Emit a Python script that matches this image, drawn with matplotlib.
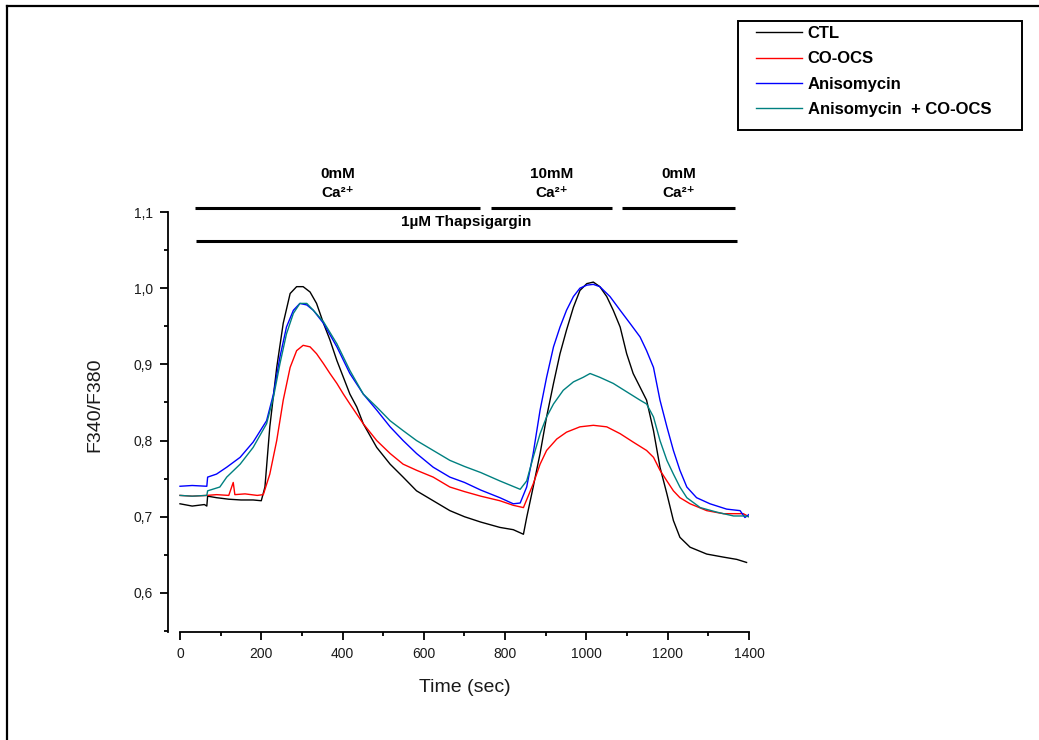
import matplotlib
matplotlib.use("Agg")
import matplotlib.pyplot as plt
from matplotlib.lines import Line2D
from matplotlib.patches import Rectangle
from matplotlib.ticker import MultipleLocator, FuncFormatter

plt.rcParams["font.family"] = ["Liberation Sans", "DejaVu Sans"]

# values
ctl_t = [0, 30, 60, 66, 68, 90, 120, 150, 180, 200, 209, 221, 238, 254, 271, 287, 303, 320,
         336, 353, 369, 386, 402, 418, 435, 451, 484, 517, 549, 582, 623, 664, 700, 740, 787,
         820, 845, 853, 869, 886, 902, 919, 935, 951, 968, 984, 1001, 1017, 1033, 1050, 1066,
         1083, 1099, 1115, 1132, 1148, 1165, 1181, 1198, 1214, 1230, 1255, 1296, 1337, 1370, 1394]
ctl_v = [0.717, 0.714, 0.716, 0.714, 0.727, 0.725, 0.723, 0.722, 0.722, 0.721, 0.739, 0.818,
         0.896, 0.954, 0.993, 1.002, 1.002, 0.995, 0.980, 0.954, 0.932, 0.905, 0.883, 0.861,
         0.844, 0.822, 0.791, 0.769, 0.752, 0.734, 0.721, 0.708, 0.700, 0.693, 0.686, 0.683,
         0.677, 0.699, 0.739, 0.783, 0.831, 0.875, 0.914, 0.945, 0.975, 0.997, 1.006, 1.008,
         1.002, 0.989, 0.971, 0.949, 0.914, 0.888, 0.870, 0.853, 0.813, 0.765, 0.730, 0.695,
         0.673, 0.660, 0.651, 0.647, 0.644, 0.640]

coocs_t = [0, 30, 66, 90, 120, 131, 135, 160, 190, 205, 221, 238, 254, 271, 287, 303, 320, 336,
           353, 369, 386, 402, 418, 451, 484, 517, 549, 582, 623, 664, 700, 740, 787, 820, 845,
           869, 886, 902, 927, 951, 984, 1017, 1050, 1083, 1115, 1148, 1165, 1181, 1198, 1214,
           1230, 1255, 1296, 1337, 1386, 1400]
coocs_v = [0.728, 0.727, 0.728, 0.729, 0.728, 0.745, 0.729, 0.730, 0.728, 0.729, 0.756, 0.800,
           0.853, 0.896, 0.918, 0.925, 0.923, 0.914, 0.901, 0.888, 0.875, 0.861, 0.848, 0.822,
           0.800, 0.783, 0.769, 0.761, 0.752, 0.739, 0.733, 0.727, 0.721, 0.715, 0.712, 0.743,
           0.769, 0.787, 0.802, 0.811, 0.818, 0.820, 0.818, 0.809, 0.798, 0.787, 0.778, 0.761,
           0.747, 0.734, 0.725, 0.717, 0.708, 0.704, 0.704, 0.700]

aniso_t = [0, 30, 66, 68, 90, 115, 148, 180, 213, 230, 246, 262, 279, 295, 312, 328, 353, 386,
           418, 451, 484, 517, 549, 582, 623, 664, 700, 740, 787, 820, 837, 853, 869, 886, 902,
           919, 935, 951, 968, 984, 1001, 1017, 1033, 1058, 1083, 1107, 1132, 1148, 1165, 1181,
           1198, 1214, 1230, 1247, 1271, 1304, 1345, 1378, 1390, 1400]
aniso_v = [0.740, 0.741, 0.740, 0.752, 0.756, 0.765, 0.778, 0.798, 0.826, 0.861, 0.910, 0.949,
           0.971, 0.980, 0.978, 0.971, 0.954, 0.923, 0.888, 0.861, 0.840, 0.818, 0.800, 0.783,
           0.765, 0.752, 0.745, 0.735, 0.725, 0.717, 0.718, 0.739, 0.783, 0.840, 0.883, 0.923,
           0.949, 0.971, 0.989, 1.000, 1.004, 1.005, 1.002, 0.989, 0.971, 0.954, 0.936, 0.918,
           0.896, 0.853, 0.818, 0.787, 0.761, 0.739, 0.725, 0.717, 0.710, 0.708, 0.699, 0.703]

combo_t = [0, 30, 66, 68, 98, 115, 148, 180, 213, 230, 246, 262, 279, 295, 312, 328, 353, 386,
           418, 451, 484, 517, 549, 582, 623, 664, 700, 740, 787, 837, 853, 869, 886, 902, 919,
           943, 968, 992, 1009, 1033, 1066, 1099, 1132, 1148, 1165, 1181, 1198, 1214, 1230, 1247,
           1280, 1321, 1362, 1390, 1400]
combo_v = [0.728, 0.727, 0.728, 0.734, 0.739, 0.752, 0.769, 0.791, 0.822, 0.857, 0.901, 0.940,
           0.967, 0.980, 0.980, 0.971, 0.956, 0.927, 0.892, 0.861, 0.844, 0.826, 0.813, 0.800,
           0.787, 0.774, 0.766, 0.758, 0.747, 0.736, 0.747, 0.778, 0.809, 0.831, 0.848, 0.866,
           0.877, 0.883, 0.888, 0.883, 0.875, 0.864, 0.853, 0.848, 0.831, 0.800, 0.774, 0.756,
           0.739, 0.725, 0.712, 0.706, 0.701, 0.701, 0.700]

series_names = ["CTL", "CO-OCS", "Anisomycin", "Anisomycin  + CO-OCS"]
series_colors = ["#000000", "#ff0000", "#0000ff", "#008080"]

# treatment bars: (start, end, label)
ca_periods = [(37, 738, "0mM"), (765, 1063, "10mM"), (1088, 1366, "0mM")]
thaps_period = (39, 1371, "1µM Thapsigargin")

W, H = 1039, 740
fig = plt.figure(figsize=(W / 100, H / 100), dpi=100)
ax = fig.add_axes([168 / W, 108 / H, (749 - 168) / W, (632 - 212) / H])

series = [(ctl_t, ctl_v), (coocs_t, coocs_v), (aniso_t, aniso_v), (combo_t, combo_v)]
handles = []
for (tt, vv), name, col in zip(series, series_names, series_colors):
    h, = ax.plot(tt, vv, color=col, lw=1.0, label=name)
    handles.append(h)

ax.set_xlim(-29.5, 1400)
ax.set_ylim(0.5487, 1.1)
for s in ["top", "right"]:
    ax.spines[s].set_visible(False)
ax.spines["bottom"].set_bounds(0, 1400)
ax.spines["left"].set_linewidth(1.3)
ax.spines["bottom"].set_linewidth(1.3)

ax.xaxis.set_major_locator(MultipleLocator(200))
ax.xaxis.set_minor_locator(MultipleLocator(100))
ax.yaxis.set_major_locator(MultipleLocator(0.1))
ax.yaxis.set_minor_locator(MultipleLocator(0.05))
ax.yaxis.set_major_formatter(FuncFormatter(lambda v, p: f"{v:.1f}".replace(".", ",")))
ax.tick_params(which="major", direction="out", length=6, width=1.3, labelsize=10,
               labelcolor="#1a1a1a")
ax.tick_params(which="minor", direction="out", length=3, width=1.3)
ax.tick_params(axis="x", pad=5)
ax.tick_params(axis="y", pad=5)

fig.text(465 / W, 1 - 688 / H, "Time (sec)", ha="center", va="center", fontsize=14,
         color="#1a1a1a")
fig.text(95 / W, 1 - 405 / H, "F340/F380", ha="center", va="center", fontsize=14,
         rotation=90, color="#1a1a1a")

# treatment annotations above the plot
for x0, x1, conc in ca_periods:
    ax.plot([x0, x1], [1.1053, 1.1053], color="black", lw=2.2, clip_on=False,
            solid_capstyle="butt")
    xc = (x0 + x1) / 2
    ax.text(xc, 1.150, conc, ha="center", va="center", fontsize=11, fontweight="bold",
            clip_on=False)
    ax.text(xc, 1.125, "Ca²⁺", ha="center", va="center", fontsize=11, fontweight="bold",
            clip_on=False)
ax.plot([thaps_period[0], thaps_period[1]], [1.0618, 1.0618], color="black", lw=2.2,
        clip_on=False, solid_capstyle="butt")
ax.text((thaps_period[0] + thaps_period[1]) / 2, 1.087, thaps_period[2], ha="center",
        va="center", fontsize=11, fontweight="bold", clip_on=False)

# legend
fig.add_artist(Rectangle((738 / W, 1 - 130 / H), 284 / W, 109 / H, transform=fig.transFigure,
                         fill=False, edgecolor="black", lw=1.4))
fig.legend(handles=handles, loc="upper left", bbox_to_anchor=(756 / W, 1 - 26 / H),
           bbox_transform=fig.transFigure, frameon=False, borderpad=0, borderaxespad=0,
           handlelength=2.75, handletextpad=0.36, labelspacing=0.62,
           prop={"weight": "bold", "size": 12})

# outer frame (left and top edges)
fig.add_artist(Line2D([7 / W, 7 / W], [0, 1 - 6 / H], transform=fig.transFigure,
                      color="black", lw=1.6))
fig.add_artist(Line2D([7 / W, 1], [1 - 6 / H, 1 - 6 / H], transform=fig.transFigure,
                      color="black", lw=1.6))

fig.savefig("out.png", dpi=100)
